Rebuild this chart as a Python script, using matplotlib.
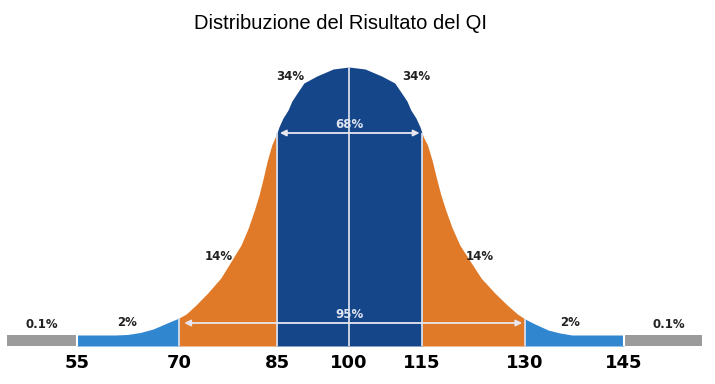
import numpy as np
import matplotlib
matplotlib.use("Agg")
import matplotlib.pyplot as plt

# IQ score vs drawn height of the stylised bell curve
curve_iq = [45, 55, 60.6, 62.4, 64.3, 66.2, 67.9, 70,
            71.1, 72.6, 74.4, 76.4, 78.0, 79.5, 80.6, 81.5, 82.25, 82.9, 83.5, 84.2, 84.85, 85,
            85.4, 86.25, 87.3, 88.1, 89.2, 90.6, 93.3, 96.7, 100,
            103.3, 106.7, 109.4, 110.8, 111.9, 112.7, 113.75, 114.6,
            115, 115.2, 115.8, 116.5, 117.1, 117.75, 118.5, 119.4, 120.5, 122.0, 123.6, 125.6,
            127.4, 128.9, 130,
            131.5, 133.5, 135.3, 137.1, 145, 157]
curve_h = [11, 11, 11, 11.5, 13.5, 17, 22, 28,
           32, 41, 53, 68, 85, 101, 118, 135, 151, 168, 185, 201, 211, 213,
           219, 228, 236, 245, 253, 263, 270, 277, 279,
           277, 270, 263, 253, 245, 236, 228, 219,
           213, 209, 201, 185, 168, 151, 135, 118, 101, 85, 68, 53,
           41, 32, 27,
           22, 16, 13, 11, 11, 11]

bounds = [45, 55, 70, 85, 115, 130, 145, 157]
colors = ["#9b9b9b", "#3087d0", "#e07a28", "#16468a", "#e07a28", "#3087d0", "#9b9b9b"]
ticks = [55, 70, 85, 100, 115, 130, 145]

pct_labels = ["0.1%", "2%", "14%", "34%", "34%", "14%", "2%", "0.1%"]
pct_iq = [50, 62.4, 76.1, 87.7, 113.8, 123.4, 136.8, 151.9]
pct_h = [21, 23, 89, 269, 269, 89, 23, 21]

# horizontal positions on screen are not linear in IQ: piecewise axis
iq_knots = [44, 55, 70, 85, 100, 115, 130, 145, 159]
px_knots = [0, 77, 179, 277, 349, 422, 525, 624, 715]


def fwd(x):
    return np.interp(x, iq_knots, px_knots)


def inv(u):
    return np.interp(u, px_knots, iq_knots)


iq = np.array(curve_iq)
h = np.array(curve_h)

fig = plt.figure(figsize=(7.15, 3.84), dpi=100)
ax = fig.add_axes([0, 38 / 384, 1, 306 / 384])
ax.set_xscale("function", functions=(fwd, inv))
ax.set_xlim(44, 159)
ax.set_ylim(0, 306)

for lo, hi, c in zip(bounds[:-1], bounds[1:], colors):
    m = (iq >= lo) & (iq <= hi)
    ax.fill_between(iq[m], 0, h[m], color=c, lw=0)

line_col = "#d6dcea"
for b in [55, 145]:
    ax.vlines(b, 0, np.interp(b, iq, h), color="white", lw=1.5)
for b in [70, 85, 100, 115, 130]:
    ax.vlines(b, 0, np.interp(b, iq, h), color=line_col, lw=1.3)

# range arrows
arrow = dict(arrowstyle="<|-|>", color="#e8e6ee", lw=1.3, mutation_scale=9,
             shrinkA=0, shrinkB=0)
ax.annotate("", xy=(85.6, 213), xytext=(114.5, 213), arrowprops=arrow)
ax.annotate("", xy=(70.8, 23), xytext=(129.6, 23), arrowprops=arrow)
ax.text(100, 221, "68%", ha="center", va="center", fontsize=8.5,
        fontweight="bold", color="#dfe4f0")
ax.text(100, 31, "95%", ha="center", va="center", fontsize=8.5,
        fontweight="bold", color="#dfe4f0")

for lab, x, y in zip(pct_labels, pct_iq, pct_h):
    ax.text(x, y, lab, ha="center", va="center", fontsize=8.5,
            fontweight="bold", color="#222222")

ax.set_xticks(ticks)
ax.set_xticklabels([str(t) for t in ticks], fontsize=13, fontweight="bold")
ax.tick_params(axis="x", length=0, pad=6)
ax.set_yticks([])
for s in ax.spines.values():
    s.set_visible(False)

fig.text(341 / 715, 1 - 29 / 384, "Distribuzione del Risultato del QI",
         ha="center", va="baseline", fontsize=14.5, family="Liberation Sans")

fig.savefig("out.png", dpi=100)
